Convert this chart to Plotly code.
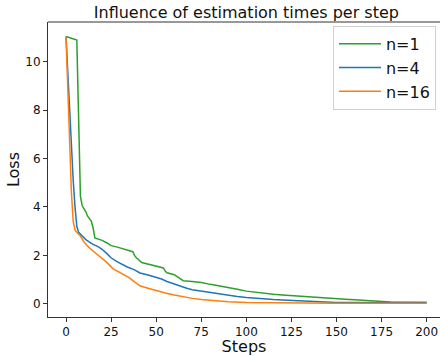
import plotly.graph_objects as go

# ---- data ----
steps_n1 = [0, 2, 4, 6, 8, 9, 11, 12, 14, 15, 16, 18, 20, 23, 25, 28, 30, 33, 37, 38, 39, 42, 46, 50, 54, 55, 56, 60, 63, 65, 70, 75, 80, 85, 90, 95, 100, 105, 110, 115, 120, 125, 130, 135, 140, 145, 150, 155, 160, 165, 170, 175, 180, 190, 200]
loss_n1 = [11.05, 11.0, 10.95, 10.9, 4.45, 4.05, 3.8, 3.62, 3.42, 3.15, 2.72, 2.68, 2.62, 2.5, 2.4, 2.35, 2.3, 2.25, 2.15, 2.0, 1.9, 1.7, 1.62, 1.55, 1.48, 1.35, 1.28, 1.2, 1.06, 0.95, 0.92, 0.88, 0.8, 0.74, 0.68, 0.6, 0.52, 0.47, 0.43, 0.39, 0.36, 0.33, 0.31, 0.29, 0.26, 0.23, 0.21, 0.18, 0.16, 0.13, 0.1, 0.08, 0.07, 0.06, 0.06]

steps_n4 = [0, 1, 2, 3, 4, 5, 6, 7, 9, 11, 13, 15, 18, 20, 23, 25, 28, 31, 34, 38, 41, 45, 49, 53, 56, 60, 63, 67, 70, 75, 80, 85, 90, 95, 100, 105, 110, 115, 120, 125, 130, 140, 150, 160, 175, 200]
loss_n4 = [11.05, 9.5, 8.0, 6.5, 5.1, 4.0, 3.2, 2.95, 2.8, 2.65, 2.55, 2.45, 2.35, 2.25, 2.05, 1.9, 1.75, 1.62, 1.52, 1.4, 1.27, 1.2, 1.12, 1.02, 0.92, 0.82, 0.72, 0.64, 0.58, 0.52, 0.46, 0.4, 0.35, 0.3, 0.26, 0.22, 0.19, 0.17, 0.15, 0.13, 0.11, 0.08, 0.05, 0.05, 0.05, 0.04]

steps_n16 = [0, 1, 2, 3, 4, 5, 6, 8, 10, 12, 15, 19, 22, 26, 30, 35, 38, 41, 45, 50, 55, 60, 65, 70, 75, 80, 90, 100, 120, 150, 200]
loss_n16 = [11.05, 8.6, 6.6, 4.6, 3.4, 3.05, 2.95, 2.8, 2.55, 2.38, 2.18, 1.95, 1.75, 1.45, 1.28, 1.08, 0.9, 0.74, 0.65, 0.53, 0.44, 0.36, 0.28, 0.22, 0.17, 0.13, 0.08, 0.05, 0.03, 0.02, 0.02]

series_names = ["n=1", "n=4", "n=16"]
series_colors = ["#2ca02c", "#1f77b4", "#ff7f0e"]

x_ticks = [0, 25, 50, 75, 100, 125, 150, 175, 200]
y_ticks = [0, 2, 4, 6, 8, 10]

FONT = "DejaVu Sans"

fig = go.Figure()
for xs, ys, name, col in zip([steps_n1, steps_n4, steps_n16],
                             [loss_n1, loss_n4, loss_n16],
                             series_names, series_colors):
    fig.add_trace(go.Scatter(x=xs, y=ys, mode="lines", name=name,
                             line=dict(color=col, width=1.5)))

axis_common = dict(showline=True, linecolor="#333", linewidth=1, mirror=False,
                   ticks="outside", ticklen=4, tickcolor="#333", tickwidth=1,
                   showgrid=False, zeroline=False, automargin=False,
                   tickfont=dict(family=FONT, size=12, color="#111"))

fig.update_layout(
    width=440, height=356,
    margin=dict(l=48, r=0, t=22, b=39),
    paper_bgcolor="white", plot_bgcolor="white",
    font=dict(family=FONT, color="#111"),
    title=dict(text="Influence of estimation times per step",
               font=dict(family=FONT, size=16, color="#111"),
               x=0.506, xref="paper", xanchor="center",
               y=1 - 12 / 356, yref="container", yanchor="middle"),
    xaxis=dict(range=[-9.98, 207.4], tickvals=x_ticks,
               title=dict(text="Steps", font=dict(family=FONT, size=16), standoff=5),
               **axis_common),
    yaxis=dict(range=[-0.55, 11.65], tickvals=y_ticks,
               title=dict(text="Loss", font=dict(family=FONT, size=16), standoff=1),
               **axis_common),
    legend=dict(x=0.727, xanchor="left", y=0.987, yanchor="top",
                bordercolor="#d0d0d0", borderwidth=1, bgcolor="rgba(255,255,255,0.8)",
                font=dict(family=FONT, size=16, color="#111"),
                itemwidth=42, tracegroupgap=0),
    showlegend=True,
)
fig.add_shape(type="line", xref="paper", yref="paper", x0=0, x1=1, y0=1, y1=1,
              line=dict(color="#333", width=1))

fig.write_html("out.html", config={"displayModeBar": False},
               post_script="document.body.style.margin='0';document.body.style.overflow='hidden';")
